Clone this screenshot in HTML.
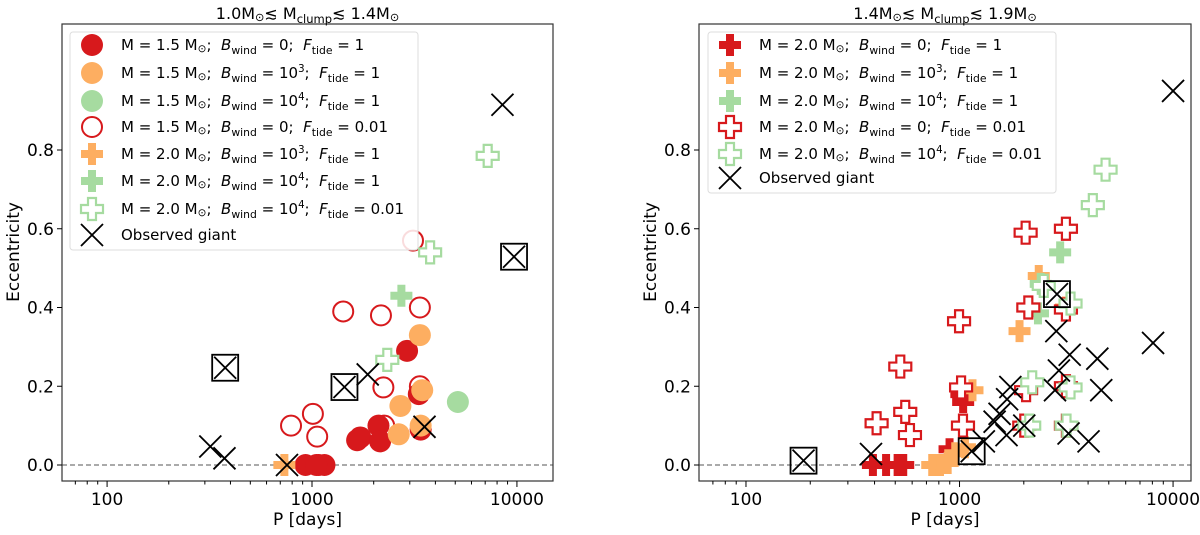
<!DOCTYPE html>
<html><head><meta charset="utf-8"><style>
body{margin:0;background:#fff}
svg{font-family:"DejaVu Sans","Liberation Sans",sans-serif}
</style></head><body>
<svg id="chart" width="1200" height="530" viewBox="0 0 1200 530" xmlns="http://www.w3.org/2000/svg"></svg>
<script>
// ---- data: left panel ----
const L_redFilledCircle_P=[2910,1660,1720,2110,2150,3320,3390,930,1080,1150,1050];
const L_redFilledCircle_e=[0.29,0.063,0.07,0.10,0.06,0.18,0.09,0,0,0,0];
const L_orangeFilledCircle_P=[3360,2700,2650,3450,3390];
const L_orangeFilledCircle_e=[0.33,0.15,0.078,0.19,0.10];
const L_greenFilledCircle_P=[5150];
const L_greenFilledCircle_e=[0.16];
const L_redOpenCircle_P=[3110,1420,2170,3360,790,1010,1060,2230,3360,2250];
const L_redOpenCircle_e=[0.57,0.39,0.38,0.40,0.10,0.13,0.072,0.197,0.20,0.10];
const L_orangePlus_P=[733];
const L_orangePlus_e=[0];
const L_greenPlus_P=[2730];
const L_greenPlus_e=[0.43];
const L_greenOpenPlus_P=[7200,3770,2330];
const L_greenOpenPlus_e=[0.785,0.54,0.267];
const L_obs_P=[8500,1870,319,374,755,3540];
const L_obs_e=[0.915,0.23,0.047,0.017,0,0.097];
const L_boxed_P=[377,1440,9680];
const L_boxed_e=[0.247,0.198,0.529];
// ---- data: right panel ----
const R_redPlus_P=[393,453,513,545,1040,1020,898];
const R_redPlus_e=[0,0,0,0,0.16,0.18,0.04];
const R_orangePlus_P=[745,810,880,955,1060,1150,1910,2350,3150];
const R_orangePlus_e=[0,0,0.005,0.03,0.045,0.19,0.34,0.48,0.40];
const R_greenPlus_P=[2960,2330,2400];
const R_greenPlus_e=[0.54,0.385,0.46];
const R_redOpenPlus_P=[2040,3150,995,2100,528,557,409,586,1017,1038,2050,3150,2010,3150,3150];
const R_redOpenPlus_e=[0.59,0.60,0.365,0.40,0.25,0.135,0.106,0.076,0.197,0.10,0.19,0.20,0.10,0.10,0.395];
const R_greenOpenPlus_P=[4830,4210,2190,3310,2120,3170,3310,2480];
const R_greenOpenPlus_e=[0.75,0.66,0.21,0.197,0.10,0.10,0.41,0.455];
const R_obs_P=[10000,8060,4420,4610,4020,3280,2920,2840,2800,3240,2010,1730,1670,1540,1460,1660,1300,385];
const R_obs_e=[0.95,0.31,0.27,0.19,0.06,0.28,0.24,0.34,0.19,0.08,0.10,0.198,0.167,0.13,0.11,0.076,0.06,0.028];
const R_boxed_P=[186,1140,2860];
const R_boxed_e=[0.011,0.035,0.434];
const yTicks=[0,0.2,0.4,0.6,0.8];
const yTickLabels=["0.0","0.2","0.4","0.6","0.8"];
const xTicks=[100,1000,10000];
const xTickLabels=["100","1000","10000"];

const RED="#d7191c",ORA="#fdae61",GRN="#a6dba0";
const NS="http://www.w3.org/2000/svg";
const svg=document.getElementById('chart');
function mk(tag,attrs,parent){const e=document.createElementNS(NS,tag);for(const k in attrs)e.setAttribute(k,attrs[k]);(parent||svg).appendChild(e);return e;}

// rich text: segments [text, kind('n','sub','sup','sun'), italic]; relative dy keeps one text chunk
function rich(parent,x,y,size,segs,anchor){
  const t=mk('text',{x:x,y:y,'font-size':size,'text-anchor':anchor||'start'},parent);
  let cur=0;
  segs.forEach(s=>{
    const ts=document.createElementNS(NS,'tspan');
    let off=0,fs=size;
    if(s[1]==='sub'){off=4;fs=size*0.72;}
    else if(s[1]==='sup'){off=-6;fs=size*0.68;}
    else if(s[1]==='sun'){off=2;fs=size*0.7;}
    if(off!==cur)ts.setAttribute('dy',off-cur);
    cur=off;
    ts.setAttribute('font-size',fs);
    if(s[2])ts.setAttribute('font-style','italic');
    ts.textContent=s[0].replace(/ /g,'\u00a0');
    t.appendChild(ts);
  });
  return t;
}

function panel(cfg){
  const g=mk('g',{});
  
  
  const X=p=>cfg.x0+(Math.log10(p)-cfg.lmin)/(cfg.lmax-cfg.lmin)*(cfg.x1-cfg.x0);
  const Y=e=>465-(e/0.8)*315;
  cfg.X=X;cfg.Y=Y;cfg.g=g;
  const zl=mk('line',{x1:cfg.x0,x2:cfg.x1,y1:Y(0),y2:Y(0),stroke:'#777','stroke-width':1.2,'stroke-dasharray':'5,3'},g);
  
  return cfg;
}
function frame(cfg){
  const g=cfg.g,X=cfg.X,Y=cfg.Y;
  const f=mk('rect',{x:cfg.x0,y:24,width:cfg.x1-cfg.x0,height:457,fill:'none',stroke:'#333','stroke-width':1.2},g);
  
  yTicks.forEach((t,i)=>{
    mk('line',{x1:cfg.x0-5,x2:cfg.x0,y1:Y(t),y2:Y(t),stroke:'#000'},g);
    const tx=mk('text',{x:cfg.x0-8,y:Y(t)+6,'text-anchor':'end','font-size':17},g);
    tx.textContent=yTickLabels[i];
    
  });
  for(let d=1;d<=4;d++)for(let m=1;m<10;m++){
    const v=m*Math.pow(10,d),lv=Math.log10(v);
    if(lv<cfg.lmin||lv>cfg.lmax)continue;
    const big=m===1;
    mk('line',{x1:X(v),x2:X(v),y1:481,y2:481+(big?6:3.5),stroke:'#000'},g);
  }
  xTicks.forEach((t,i)=>{
    const tx=mk('text',{x:X(t),y:505,'text-anchor':'middle','font-size':17},g);
    tx.textContent=xTickLabels[i];
    
  });
  const xl=mk('text',{x:(cfg.x0+cfg.x1)/2,y:525,'text-anchor':'middle','font-size':17},g);
  xl.textContent='P [days]';
  const yl=mk('text',{x:0,y:0,'text-anchor':'middle','font-size':17,transform:`translate(${cfg.ylx},252) rotate(-90)`},g);
  yl.textContent='Eccentricity';
  const t=rich(g,(cfg.x0+cfg.x1)/2,19,16,cfg.title,'middle');
  
}
function circle(g,x,y,col,open){
  return open?mk('circle',{cx:x,cy:y,r:10,fill:'none',stroke:col,'stroke-width':2},g):mk('circle',{cx:x,cy:y,r:11,fill:col},g);
}
function plus(g,x,y,col,open){
  const a=11,b=4;
  const pts=[[-b,-a],[b,-a],[b,-b],[a,-b],[a,b],[b,b],[b,a],[-b,a],[-b,b],[-a,b],[-a,-b],[-b,-b]].map(p=>(x+p[0])+','+(y+p[1])).join(' ');
  return open?mk('polygon',{points:pts,fill:'#fff',stroke:col,'stroke-width':2.2},g):mk('polygon',{points:pts,fill:col},g);
}
function cross(g,x,y){
  const s=11;
  return mk('path',{d:`M${x-s},${y-s}L${x+s},${y+s}M${x-s},${y+s}L${x+s},${y-s}`,stroke:'#000','stroke-width':1.8,fill:'none'},g);
}
function boxed(g,x,y){
  const r=mk('rect',{x:x-13,y:y-13,width:26,height:26,fill:'none',stroke:'#000','stroke-width':1.8},g);
  cross(g,x,y);
  return r;
}
function series(cfg,P,E,fn,col,open,name){
  P.forEach((p,i)=>{
    const el=fn(cfg.g,cfg.X(p),cfg.Y(E[i]),col,open);
    
    
  });
}
function legend(x0,y0,w,h,entries,mx,tx){
  const g=mk('g',{});
  
  mk('rect',{x:x0,y:y0,width:w,height:h,rx:3,fill:'#fff','fill-opacity':0.85,stroke:'#ddd'},g);
  entries.forEach(en=>{
    const m=en.fn(g,mx,en.y,en.col,en.open);
    
    const t=rich(g,tx,en.y+5,15,en.segs);
    
  });
}
function lab(m,b,bsup,f){
  const s=[[`M = ${m} M`,'n'],['⊙','sun'],[';  ','n'],['B','n',true],['wind','sub'],[` = ${b}`,'n']];
  if(bsup)s.push([bsup,'sup']);
  s.push([';  ','n'],['F','n',true],['tide','sub'],[` = ${f}`,'n']);
  return s;
}
function title(a,b){return [[a+'M','n'],['⊙','sun'],['≲ M','n'],['clump','sub'],['≲ '+b+'M','n'],['⊙','sun']];}

// LEFT
const A=panel({name:'left-panel',x0:62,x1:553,lmin:1.78,lmax:4.176,ylx:19,title:title('1.0','1.4')});
series(A,L_redOpenCircle_P,L_redOpenCircle_e,circle,RED,true,'red-open-circle');
series(A,L_redFilledCircle_P,L_redFilledCircle_e,circle,RED,false,'red-filled-circle');
series(A,L_orangeFilledCircle_P,L_orangeFilledCircle_e,circle,ORA,false,'orange-filled-circle');
series(A,L_greenFilledCircle_P,L_greenFilledCircle_e,circle,GRN,false,'green-filled-circle');
series(A,L_orangePlus_P,L_orangePlus_e,plus,ORA,false,'orange-plus');
series(A,L_greenPlus_P,L_greenPlus_e,plus,GRN,false,'green-plus');
series(A,L_greenOpenPlus_P,L_greenOpenPlus_e,plus,GRN,true,'green-open-plus');
series(A,L_obs_P,L_obs_e,cross,'#000',false,'observed-giant');
series(A,L_boxed_P,L_boxed_e,boxed,'#000',false,'observed-giant-boxed');
frame(A);
legend(70,32,348,218,[
 {fn:circle,col:RED,open:false,y:45,segs:lab('1.5','0','','1')},
 {fn:circle,col:ORA,open:false,y:73,segs:lab('1.5','10','3','1')},
 {fn:circle,col:GRN,open:false,y:101,segs:lab('1.5','10','4','1')},
 {fn:circle,col:RED,open:true,y:127,segs:lab('1.5','0','','0.01')},
 {fn:plus,col:ORA,open:false,y:154,segs:lab('2.0','10','3','1')},
 {fn:plus,col:GRN,open:false,y:181,segs:lab('2.0','10','4','1')},
 {fn:plus,col:GRN,open:true,y:209,segs:lab('2.0','10','4','0.01')},
 {fn:cross,col:'#000',open:false,y:235,segs:[['Observed giant','n']]}
],92,121);

// RIGHT
const B=panel({name:'right-panel',x0:699,x1:1191,lmin:1.78,lmax:4.084,ylx:656,title:title('1.4','1.9')});
series(B,R_redPlus_P,R_redPlus_e,plus,RED,false,'red-plus');
series(B,R_orangePlus_P,R_orangePlus_e,plus,ORA,false,'orange-plus');
series(B,R_greenPlus_P,R_greenPlus_e,plus,GRN,false,'green-plus');
series(B,R_redOpenPlus_P,R_redOpenPlus_e,plus,RED,true,'red-open-plus');
series(B,R_greenOpenPlus_P,R_greenOpenPlus_e,plus,GRN,true,'green-open-plus');
series(B,R_obs_P,R_obs_e,cross,'#000',false,'observed-giant');
series(B,R_boxed_P,R_boxed_e,boxed,'#000',false,'observed-giant-boxed');
frame(B);
legend(708,32,348,161,[
 {fn:plus,col:RED,open:false,y:45,segs:lab('2.0','0','','1')},
 {fn:plus,col:ORA,open:false,y:73,segs:lab('2.0','10','3','1')},
 {fn:plus,col:GRN,open:false,y:101,segs:lab('2.0','10','4','1')},
 {fn:plus,col:RED,open:true,y:127,segs:lab('2.0','0','','0.01')},
 {fn:plus,col:GRN,open:true,y:154,segs:lab('2.0','10','4','0.01')},
 {fn:cross,col:'#000',open:false,y:178,segs:[['Observed giant','n']]}
],730,759);
</script>
</body></html>
